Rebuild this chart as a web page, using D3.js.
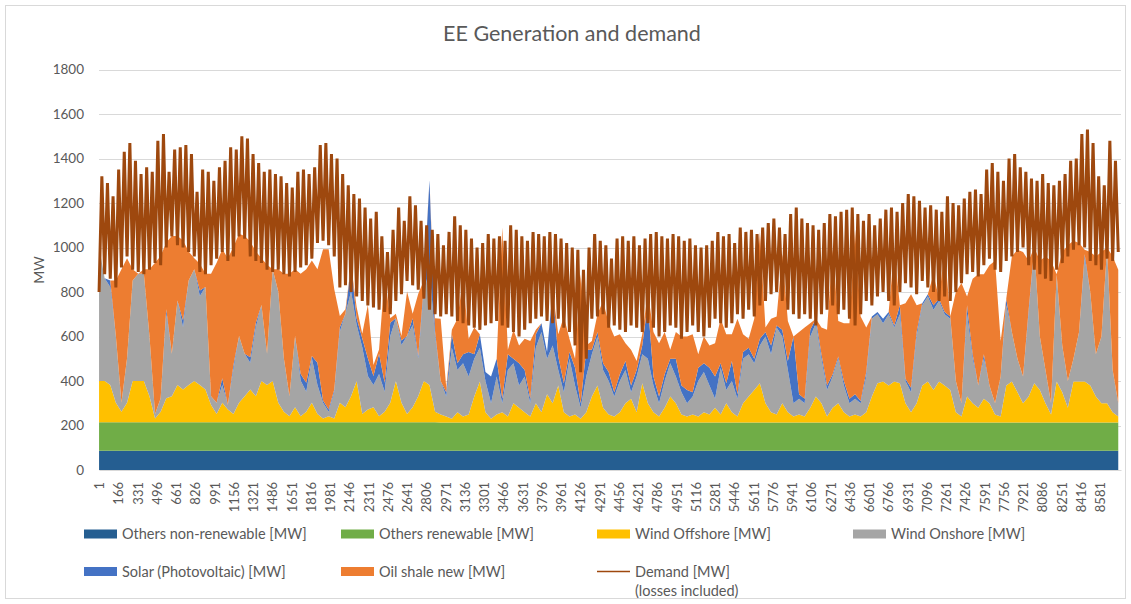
<!DOCTYPE html>
<html><head><meta charset="utf-8">
<script src="https://cdn.jsdelivr.net/npm/d3@7"></script>
<style>
body{margin:0;background:#fff}
svg{display:block}
text{font-family:Lato,"Liberation Sans",sans-serif;fill:#595959}
</style>
</head><body>
<svg id="chart" width="1131" height="604"></svg>
<script>
// ---------- DATA ----------
// stacked series sampled every 48 hours (hour 1, 49, 97, ...)
const stackStepHours = 48;
// monthly constant bands
const othersNonRenewable = [86,86,86,86,86,86,86,86,86,86,86,86];
const othersRenewable    = [129,129,129,129,127,127,127,127,127,127,127,127];
const windOffshore = [
185,185,167,87,47,87,185,185,185,117,17,47,107,117,167,147,167,185,167,147,77,37,87,57,37,87,117,147,117,185,167,
185,87,47,27,67,27,47,87,37,17,27,17,87,67,117,185,37,57,67,27,47,87,185,87,37,67,117,185,167,47,37,
27,17,47,27,37,117,185,47,17,37,47,27,87,67,47,27,87,47,127,87,167,47,27,37,17,47,117,167,67,37,
27,47,87,107,47,177,87,47,27,67,117,87,37,27,37,27,47,37,67,37,87,47,27,87,117,147,177,87,47,37,
87,47,27,37,27,67,117,87,27,67,87,47,27,37,27,47,117,177,185,167,185,177,87,47,87,167,185,147,185,167,147,
47,27,117,87,67,107,87,37,27,167,185,137,87,117,177,147,87,37,185,137,67,185,185,185,167,117,87,87,47,27];
const windOnshore = [
602,462,440,300,40,200,452,482,482,270,20,60,380,190,380,280,470,502,400,460,40,50,80,20,200,300,190,120,310,342,140,
502,500,240,90,320,160,90,200,130,70,20,120,320,420,470,252,300,150,100,190,90,300,282,260,350,370,170,402,520,340,150,
90,320,190,240,170,170,152,140,70,170,40,210,180,100,160,60,250,360,160,260,70,90,260,130,50,160,190,220,170,150,
90,140,150,30,160,130,200,120,60,120,150,120,100,60,80,160,180,130,40,210,60,140,80,200,190,120,170,300,260,390,
300,190,60,70,60,320,330,200,120,140,200,120,60,70,60,160,350,310,262,320,242,310,100,90,300,360,382,360,362,320,320,
140,60,370,200,100,180,80,50,180,360,222,150,120,370,610,240,150,50,482,210,120,102,222,552,420,190,300,700,190,60];
const solarPV = [
0,0,30,0,0,0,0,0,0,0,0,0,20,0,0,30,0,0,25,0,0,0,30,0,20,0,0,25,20,0,0,
0,0,0,0,0,30,40,10,100,10,10,10,20,0,120,30,40,80,40,90,40,60,0,20,0,30,10,30,400,20,0,
20,60,30,40,110,20,60,40,120,80,20,70,20,100,30,20,60,40,30,250,60,40,30,80,20,120,20,20,30,40,
20,30,40,30,30,40,250,40,30,30,20,80,30,60,20,60,40,80,100,20,30,90,20,30,30,20,30,20,40,10,
30,40,300,20,20,30,20,20,20,10,10,20,20,20,10,20,10,10,20,10,10,40,10,20,20,10,10,20,10,10,10,
0,0,40,20,0,20,0,0,0,30,0,0,0,20,0,0,0,0,0,0,0,0,0,20,0,0,0,0,0,0];
const oilShaleNew = [
0,0,0,250,600,450,50,0,20,300,680,640,300,530,290,360,130,50,120,60,550,630,580,660,530,460,530,520,320,210,400,
0,100,380,550,300,450,510,430,420,680,720,450,50,20,0,50,20,240,50,20,480,20,20,20,200,20,280,20,0,60,280,
20,20,200,340,60,120,0,0,0,0,770,20,130,80,140,260,20,0,0,0,100,300,60,40,580,20,40,80,280,220,
250,180,80,160,40,50,50,200,240,190,40,120,220,240,260,60,120,100,150,200,220,120,340,80,40,180,480,20,120,40,
340,180,0,280,320,30,0,120,250,560,160,260,340,740,380,200,0,0,0,0,340,0,340,420,120,0,0,140,0,280,0,
400,540,40,340,500,360,540,640,160,0,340,490,560,220,0,340,510,640,0,420,610,530,400,20,180,440,380,0,510,600];
// demand sampled every 24 hours (hour 1, 25, 49, ...)
const demandStepHours = 24;
const demand = [
800,1320,880,1290,860,1230,820,1350,910,1430,960,1470,900,1390,890,1330,880,1360,900,1340,930,1480,920,1510,1000,1340,1050,1440,1010,1450,1000,1460,980,1420,960,1250,890,1350,880,1340,920,1300,950,1360,980,1390,940,1450,960,1440,1050,1500,1040,1490,960,1420,940,1380,930,1340,
900,1350,890,1330,900,1320,880,1290,870,1270,890,1340,910,1350,920,1330,950,1360,1020,1460,1030,1470,1010,1420,960,1400,820,1330,830,1280,800,1240,780,1220,760,1180,740,1130,730,1160,720,1050,710,980,700,1080,760,1180,790,1120,850,1230,830,1190,810,1120,770,1100,720,1080,700,1060,
690,1010,700,1070,690,1140,670,1100,660,1080,650,1040,640,1000,630,1020,650,1060,660,1040,670,1050,650,1030,640,1100,620,1080,600,1050,630,1030,660,1070,680,1060,690,1050,670,1070,660,1060,680,1040,640,1020,620,1000,560,990,440,900,500,1000,680,1060,690,1030,700,1010,
640,950,650,1040,630,1050,620,1030,650,1050,640,1010,620,1040,660,1060,640,1070,600,1050,620,1040,650,1060,640,1050,590,1030,620,1040,650,1010,620,1000,600,1010,640,1030,680,1070,660,1050,640,1060,660,1020,700,1090,680,1070,720,1080,690,1060,740,1090,760,1110,790,1130,
800,1090,760,1060,720,1150,700,1180,680,1130,700,1110,680,1100,650,1080,700,1110,720,1150,740,1140,700,1160,720,1170,680,1180,650,1150,700,1120,760,1150,740,1100,780,1130,800,1170,760,1180,740,1160,800,1200,840,1240,820,1230,790,1210,850,1180,820,1190,800,1170,760,1160,780,1230,
760,1200,800,1190,840,1220,880,1250,890,1260,870,1240,920,1350,950,1380,900,1340,890,1300,940,1400,960,1420,980,1360,1000,1340,920,1310,900,1300,880,1330,860,1290,850,1280,900,1300,930,1330,960,1390,990,1400,1010,1510,1000,1530,940,1470,920,1320,900,1280,950,1480,940,1390,980];
const yTicks = [0,200,400,600,800,1000,1200,1400,1600,1800];
const xTickLabels = [1,166,331,496,661,826,991,1156,1321,1486,1651,1816,1981,2146,2311,2476,2641,2806,2971,3136,3301,3466,3631,3796,3961,4126,4291,4456,4621,4786,4951,5116,5281,5446,5611,5776,5941,6106,6271,6436,6601,6766,6931,7096,7261,7426,7591,7756,7921,8086,8251,8416,8581];
const seriesNames = ["Others non-renewable [MW]","Others renewable [MW]","Wind Offshore [MW]","Wind Onshore [MW]","Solar (Photovoltaic) [MW]","Oil shale new [MW]","Demand [MW]"];
const totalHours = 8760;

// ---------- DRAWING ----------
const colors = ["#255e91","#70ad47","#ffc000","#a5a5a5","#4472c4","#ed7d31"];
const demandColor = "#9e480e";
const svg = d3.select("#chart");
const L = 99, R = 1121, T = 69.5, B = 470;
const x = d3.scaleLinear().domain([0.5, totalHours + 0.5]).range([L, R]);
const y = d3.scaleLinear().domain([0, 1800]).range([B, T]);

// border
svg.append("rect").attr("x",5.5).attr("y",5.5).attr("width",1120).attr("height",593)
  .attr("fill","#fff").attr("stroke","#d9d9d9");

// gridlines
svg.append("g").selectAll("line").data(yTicks.filter(d=>d>0)).join("line")
  .attr("x1",L).attr("x2",R).attr("y1",d=>Math.round(y(d))+0.5).attr("y2",d=>Math.round(y(d))+0.5)
  .attr("stroke","#d9d9d9").attr("stroke-width",1);

// stacked areas
const keys = ["nonRen","ren","off","on","sol","oil"];
const monthOf = h => Math.min(11, Math.floor((h - 1) / 730));
const rows = windOffshore.map((v,i)=>{
  const h = 1 + i*stackStepHours, m = monthOf(h);
  return {hour:h, nonRen:othersNonRenewable[m], ren:othersRenewable[m], off:v,
          on:windOnshore[i], sol:solarPV[i], oil:oilShaleNew[i]};
});
const stacked = d3.stack().keys(keys)(rows);
const area = d3.area().x(d=>x(d.data.hour)).y0(d=>y(d[0])).y1(d=>y(d[1]));
svg.append("g").selectAll("path").data(stacked).join("path")
  .attr("d",area).attr("fill",(d,i)=>colors[i]);

// demand line
const line = d3.line().x((d,i)=>x(1 + i*demandStepHours)).y(d=>y(d));
svg.append("path").datum(demand).attr("d",line).attr("fill","none")
  .attr("stroke",demandColor).attr("stroke-width",3).attr("stroke-linejoin","bevel");

// x axis
const xAxis = svg.append("g").attr("transform",`translate(0,${B})`)
  .call(d3.axisBottom(x).tickValues(xTickLabels).tickSize(0).tickFormat(d=>String(d)));
xAxis.select(".domain").attr("stroke","#d9d9d9");
xAxis.selectAll("text").attr("transform","rotate(-90)").attr("text-anchor","end")
  .attr("x",-12).attr("y",0).attr("dy","0.35em").style("font-size","13px").style("fill","#595959");

// y axis
const yAxis = svg.append("g").attr("transform",`translate(${L},0)`)
  .call(d3.axisLeft(y).tickValues(yTicks).tickSize(0).tickFormat(d=>String(d)));
yAxis.select(".domain").remove();
yAxis.selectAll("text").attr("x",-15).style("font-size","13.5px").style("fill","#595959");

// axis title
svg.append("text").attr("transform","translate(44,270) rotate(-90)").attr("text-anchor","middle")
  .style("font-size","14px").text("MW");

// title
svg.append("text").attr("x",572).attr("y",41).attr("text-anchor","middle")
  .style("font-size","21.5px").text("EE Generation and demand");

// legend
const legendPos = [[84,534],[341,534],[597,534],[853,534],[84,571.5],[341,571.5],[597,571.5]];
const lg = svg.append("g").style("font-size","14.5px");
seriesNames.forEach((name,i)=>{
  const [lx,ly] = legendPos[i];
  if (i < 6) {
    lg.append("rect").attr("x",lx).attr("y",ly-4.5).attr("width",33).attr("height",9).attr("fill",colors[i]);
  } else {
    lg.append("line").attr("x1",lx).attr("x2",lx+33).attr("y1",ly).attr("y2",ly)
      .attr("stroke",demandColor).attr("stroke-width",1.5);
  }
  lg.append("text").attr("x",lx+38).attr("y",ly).attr("dy","0.35em").text(name);
});
lg.append("text").attr("x",597+38).attr("y",591).attr("dy","0.35em").text("(losses included)");
</script>
</body></html>
